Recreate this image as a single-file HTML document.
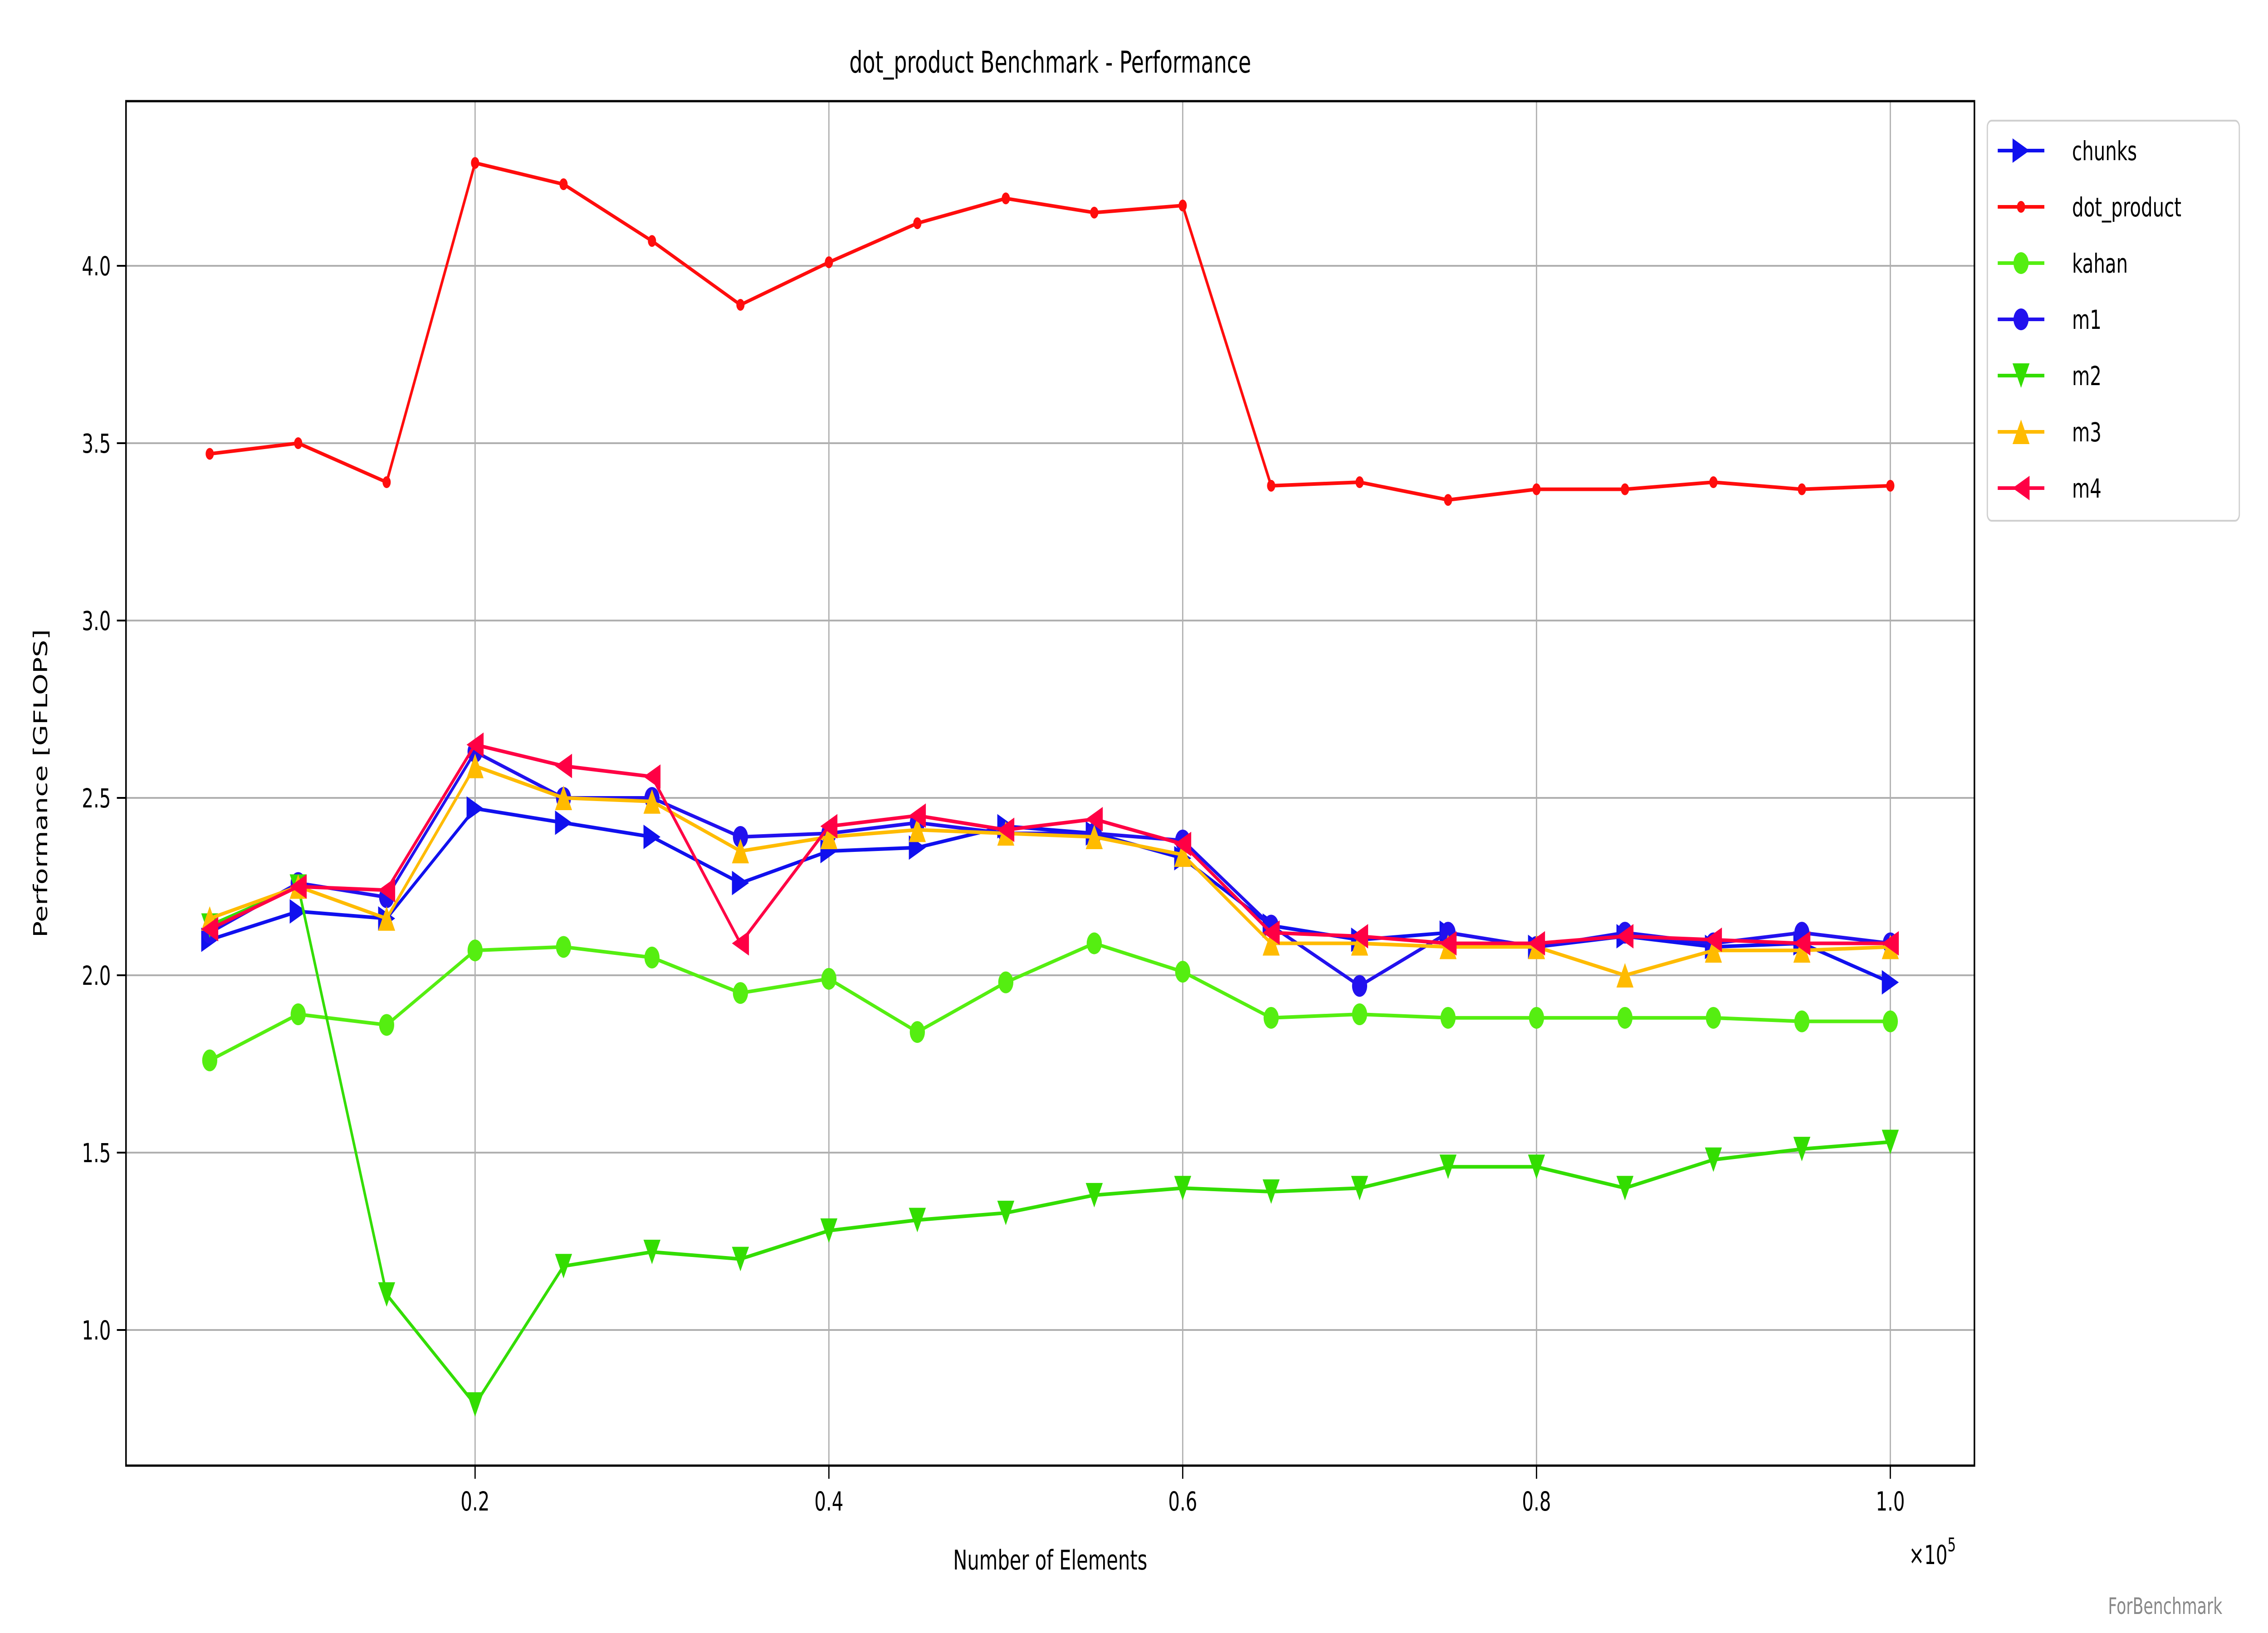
<!DOCTYPE html>
<html><head><meta charset="utf-8"><style>html,body{margin:0;padding:0;background:#fff;overflow:hidden;width:100%;height:100%}svg{display:block;width:100vw;height:100vh}text{font-family:"DejaVu Sans","Liberation Sans",sans-serif}</style></head>
<body>
<svg id="chart" xmlns="http://www.w3.org/2000/svg" viewBox="0 0 7200 3600" preserveAspectRatio="none">
<rect width="7200" height="3600" fill="#fff"/>
<text x="3334" y="160" font-size="66" text-anchor="middle">dot_product Benchmark - Performance</text>
<g id="grid"></g>
<g id="series"></g>
<rect x="400" y="223" width="5868" height="3008" fill="none" stroke="#000" stroke-width="5"/>
<g id="ticks"></g>
<text x="3334" y="3460" font-size="60" text-anchor="middle">Number of Elements</text>
<text x="6060" y="3448" font-size="58">×10<tspan font-size="42" dy="-28">5</tspan></text>
<text transform="translate(150,1727) rotate(-90)" font-size="60" text-anchor="middle">Performance [GFLOPS]</text>
<text x="7055" y="3558" font-size="50" fill="#888" text-anchor="end">ForBenchmark</text>
<g id="legend"></g>
</svg>
<script>
const xValues=[0.05,0.1,0.15,0.2,0.25,0.3,0.35,0.4,0.45,0.5,0.55,0.6,0.65,0.7,0.75,0.8,0.85,0.9,0.95,1.0];
const chunks=[2.10,2.18,2.16,2.47,2.43,2.39,2.26,2.35,2.36,2.42,2.40,2.33,2.14,2.10,2.12,2.08,2.11,2.08,2.09,1.98];
const dotProduct=[3.47,3.50,3.39,4.29,4.23,4.07,3.89,4.01,4.12,4.19,4.15,4.17,3.38,3.39,3.34,3.37,3.37,3.39,3.37,3.38];
const kahan=[1.76,1.89,1.86,2.07,2.08,2.05,1.95,1.99,1.84,1.98,2.09,2.01,1.88,1.89,1.88,1.88,1.88,1.88,1.87,1.87];
const m1=[2.12,2.26,2.22,2.63,2.50,2.50,2.39,2.40,2.43,2.40,2.40,2.38,2.14,1.97,2.12,2.08,2.12,2.09,2.12,2.09];
const m2=[2.14,2.25,1.10,0.79,1.18,1.22,1.20,1.28,1.31,1.33,1.38,1.40,1.39,1.40,1.46,1.46,1.40,1.48,1.51,1.53];
const m3=[2.16,2.25,2.16,2.59,2.50,2.49,2.35,2.39,2.41,2.40,2.39,2.34,2.09,2.09,2.08,2.08,2.00,2.07,2.07,2.08];
const m4=[2.13,2.25,2.24,2.65,2.59,2.56,2.09,2.42,2.45,2.41,2.44,2.37,2.12,2.11,2.09,2.09,2.11,2.10,2.09,2.09];
const xTicks=[0.2,0.4,0.6,0.8,1.0];
const xTickLabels=["0.2","0.4","0.6","0.8","1.0"];
const yTicks=[1.0,1.5,2.0,2.5,3.0,3.5,4.0];
const yTickLabels=["1.0","1.5","2.0","2.5","3.0","3.5","4.0"];
const seriesNames=["chunks","dot_product","kahan","m1","m2","m3","m4"];

const NS="http://www.w3.org/2000/svg";
function X(v){return 385+v*5616;}
function Y(v){return 586+(4.0-v)*782;}
function mk(tag,attrs,parent){const e=document.createElementNS(NS,tag);for(const k in attrs)e.setAttribute(k,attrs[k]);parent.appendChild(e);return e;}
const grid=document.getElementById('grid'),ticks=document.getElementById('ticks'),series=document.getElementById('series'),legend=document.getElementById('legend');
xTicks.forEach((t,i)=>{
 const g=mk('line',{x1:X(t),x2:X(t),y1:223,y2:3231,stroke:'#b0b0b0','stroke-width':4},grid);
 
 
 const tk=mk('line',{x1:X(t),x2:X(t),y1:3231,y2:3260,stroke:'#000','stroke-width':4},ticks);
 
 
 const tx=mk('text',{x:X(t),y:3330,'font-size':58,'text-anchor':'middle'},ticks);tx.textContent=xTickLabels[i];
 
 
});
yTicks.forEach((t,i)=>{
 const g=mk('line',{x1:400,x2:6268,y1:Y(t),y2:Y(t),stroke:'#b0b0b0','stroke-width':4},grid);
 
 
 const tk=mk('line',{x1:371,x2:400,y1:Y(t),y2:Y(t),stroke:'#000','stroke-width':4},ticks);
 
 
 const tx=mk('text',{x:352,y:Y(t)+21,'font-size':58,'text-anchor':'end'},ticks);tx.textContent=yTickLabels[i];
 
 
});
function marker(kind,x,y,color,parent){
 let e;
 if(kind==='o')e=mk('circle',{cx:x,cy:y,r:24,fill:color},parent);
 else if(kind==='.')e=mk('circle',{cx:x,cy:y,r:13,fill:color},parent);
 else{const s=27;let p;
  if(kind==='>')p=[[x+s,y],[x-s,y-s],[x-s,y+s]];
  else if(kind==='<')p=[[x-s,y],[x+s,y-s],[x+s,y+s]];
  else if(kind==='^')p=[[x,y-s],[x-s,y+s],[x+s,y+s]];
  else p=[[x,y+s],[x-s,y-s],[x+s,y-s]];
  e=mk('polygon',{points:p.map(q=>q.join(',')).join(' '),fill:color},parent);}
 return e;
}
const seriesData=[chunks,dotProduct,kahan,m1,m2,m3,m4];
const colors=["#1010ee","#ff0d0d","#55ee11","#2211ee","#33dd00","#ffbb00","#ff0044"];
const markers=[">",".","o","o","v","^","<"];
seriesData.forEach((d,si)=>{
 const g=mk('g',{},series);
 
 
 const pl=mk('polyline',{points:d.map((v,i)=>X(xValues[i])+','+Y(v)).join(' '),fill:'none',stroke:colors[si],'stroke-width':8,'stroke-linejoin':'round'},g);
 
 
 d.forEach((v,i)=>{const m=marker(markers[si],X(xValues[i]),Y(v),colors[si],g);
  
  });
});
const box=mk('rect',{x:6309,y:266,width:800,height:882,rx:14,fill:'#fff',stroke:'#d0d0d0','stroke-width':4},legend);


seriesNames.forEach((n,i)=>{
 const y=332+i*124;
 const g=mk('g',{},legend);
 
 
 mk('line',{x1:6342,x2:6490,y1:y,y2:y,stroke:colors[i],'stroke-width':8},g);
 marker(markers[i],6416,y,colors[i],g);
 const t=mk('text',{x:6578,y:y+21,'font-size':58},g);t.textContent=n;
});
</script>
</body></html>
